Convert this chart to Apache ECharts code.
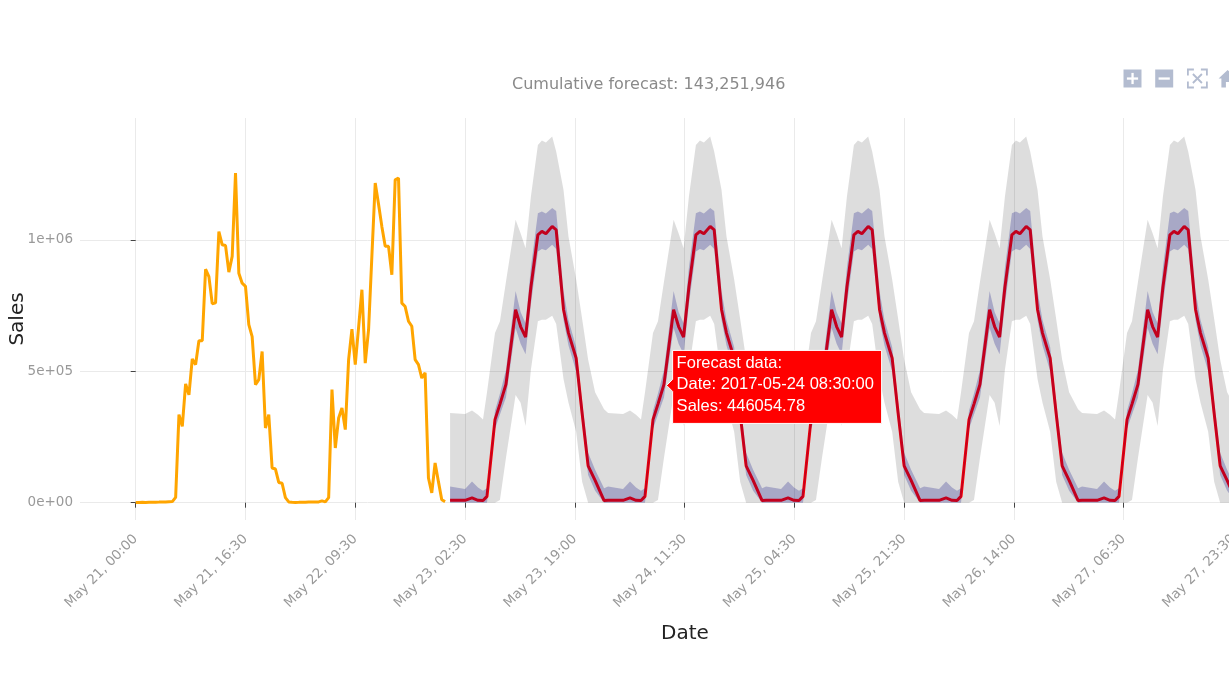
<!DOCTYPE html>
<html>
<head>
<meta charset="utf-8">
<title>Cumulative forecast</title>
<script src="https://cdn.jsdelivr.net/npm/echarts@6/dist/echarts.min.js"></script>
<style>
    html, body { margin: 0; padding: 0; background: #ffffff; }
    #grafico { width: 1229px; height: 691px; }
</style>
</head>
<body>
<div id="grafico"></div>
<script>
// x positions are half-hour slots counted from May 21 00:00
var xTickValues = [0, 33, 66, 99, 132, 165, 198, 231, 264, 297, 330];
var xTickLabels = ["May 21, 00:00", "May 21, 16:30", "May 22, 09:30", "May 23, 02:30",
    "May 23, 19:00", "May 24, 11:30", "May 25, 04:30", "May 25, 21:30",
    "May 26, 14:00", "May 27, 06:30", "May 27, 23:30"];
var yTickValues = [0, 500000, 1000000];
var yTickLabels = ["0e+00", "5e+05", "1e+06"];

// actual sales, one value per slot starting at slot 0
var actualSales = [
    1000, 800, 1200, 1000, 1500, 1800, 2000, 2200, 2500, 3000,
    3500, 4000, 20000, 335000, 290000, 452000, 410000, 547000, 525000, 616000,
    616000, 888000, 860000, 757000, 760000, 1031000, 981000, 978000, 877000, 937000,
    1254000, 873000, 835000, 823000, 677000, 632000, 449000, 468000, 575000, 284000,
    335000, 132000, 128000, 77000, 74000, 19000, 3000, 1500, 1000, 1200,
    1800, 2000, 2500, 2200, 3000, 2800, 7000, 3000, 19000, 430000,
    208000, 322000, 360000, 278000, 544000, 660000, 525000, 667000, 810000, 531000,
    658000, 940000, 1216000, 1135000, 1050000, 975000, 975000, 867000, 1228000, 1235000,
    759000, 746000, 690000, 671000, 544000, 525000, 474000, 494000, 94000, 37000,
    151000, 80000, 11000, 4000
];

// forecast points (slot positions), values below are in thousands
var forecastSlots = [
    94.5, 99.0, 101.1, 102.9, 104.4, 105.6, 108.0, 109.5, 111.3, 114.2, 115.7, 117.2, 118.8, 120.9, 122.1, 123.3, 125.2, 126.4, 128.6, 130.1, 132.4, 134.2, 136.0, 138.1, 140.8,
    142.0, 146.5, 148.6, 150.4, 151.9, 153.1, 155.5, 157.0, 158.8, 161.7, 163.2, 164.7, 166.3, 168.4, 169.6, 170.8, 172.7, 173.9, 176.1, 177.6, 179.9, 181.7, 183.5, 185.6, 188.3,
    189.5, 194.0, 196.1, 197.9, 199.4, 200.6, 203.0, 204.5, 206.3, 209.2, 210.7, 212.2, 213.8, 215.9, 217.1, 218.3, 220.2, 221.4, 223.6, 225.1, 227.4, 229.2, 231.0, 233.1, 235.8,
    237.0, 241.5, 243.6, 245.4, 246.9, 248.1, 250.5, 252.0, 253.8, 256.7, 258.2, 259.7, 261.3, 263.4, 264.6, 265.8, 267.7, 268.9, 271.1, 272.6, 274.9, 276.7, 278.5, 280.6, 283.3,
    284.5, 289.0, 291.1, 292.9, 294.4, 295.6, 298.0, 299.5, 301.3, 304.2, 305.7, 307.2, 308.8, 310.9, 312.1, 313.3, 315.2, 316.4, 318.6, 320.1, 322.4, 324.2, 326.0, 328.1, 330.8,
    332.0
];
var forecastLine = [
    9, 9, 18, 9, 8, 24, 316, 375, 450, 734, 670, 630, 820, 1019, 1032, 1023, 1051, 1038, 735, 645, 550, 340, 140, 85, 8,
    9, 9, 18, 9, 8, 24, 316, 375, 450, 734, 670, 630, 820, 1019, 1032, 1023, 1051, 1038, 735, 645, 550, 340, 140, 85, 8,
    9, 9, 18, 9, 8, 24, 316, 375, 450, 734, 670, 630, 820, 1019, 1032, 1023, 1051, 1038, 735, 645, 550, 340, 140, 85, 8,
    9, 9, 18, 9, 8, 24, 316, 375, 450, 734, 670, 630, 820, 1019, 1032, 1023, 1051, 1038, 735, 645, 550, 340, 140, 85, 8,
    9, 9, 18, 9, 8, 24, 316, 375, 450, 734, 670, 630, 820, 1019, 1032, 1023, 1051, 1038, 735, 645, 550, 340, 140, 85, 8,
    9
];
var innerUpper = [
    62, 52, 81, 58, 45, 55, 350, 415, 505, 805, 725, 683, 895, 1101, 1108, 1100, 1121, 1110, 805, 695, 592, 385, 190, 125, 55,
    62, 52, 81, 58, 45, 55, 350, 415, 505, 805, 725, 683, 895, 1101, 1108, 1100, 1121, 1110, 805, 695, 592, 385, 190, 125, 55,
    62, 52, 81, 58, 45, 55, 350, 415, 505, 805, 725, 683, 895, 1101, 1108, 1100, 1121, 1110, 805, 695, 592, 385, 190, 125, 55,
    62, 52, 81, 58, 45, 55, 350, 415, 505, 805, 725, 683, 895, 1101, 1108, 1100, 1121, 1110, 805, 695, 592, 385, 190, 125, 55,
    62, 52, 81, 58, 45, 55, 350, 415, 505, 805, 725, 683, 895, 1101, 1108, 1100, 1121, 1110, 805, 695, 592, 385, 190, 125, 55,
    62
];
var innerLower = [
    0, 0, 0, 0, 0, 0, 280, 335, 400, 664, 605, 565, 755, 955, 965, 960, 981, 965, 695, 598, 500, 300, 105, 45, 0,
    0, 0, 0, 0, 0, 0, 280, 335, 400, 664, 605, 565, 755, 955, 965, 960, 981, 965, 695, 598, 500, 300, 105, 45, 0,
    0, 0, 0, 0, 0, 0, 280, 335, 400, 664, 605, 565, 755, 955, 965, 960, 981, 965, 695, 598, 500, 300, 105, 45, 0,
    0, 0, 0, 0, 0, 0, 280, 335, 400, 664, 605, 565, 755, 955, 965, 960, 981, 965, 695, 598, 500, 300, 105, 45, 0,
    0, 0, 0, 0, 0, 0, 280, 335, 400, 664, 605, 565, 755, 955, 965, 960, 981, 965, 695, 598, 500, 300, 105, 45, 0,
    0
];
var outerUpper = [
    341, 337, 351, 334, 316, 420, 645, 690, 840, 1076, 1025, 968, 1165, 1361, 1378, 1370, 1393, 1336, 1190, 1013, 850, 700, 545, 420, 355,
    341, 337, 351, 334, 316, 420, 645, 690, 840, 1076, 1025, 968, 1165, 1361, 1378, 1370, 1393, 1336, 1190, 1013, 850, 700, 545, 420, 355,
    341, 337, 351, 334, 316, 420, 645, 690, 840, 1076, 1025, 968, 1165, 1361, 1378, 1370, 1393, 1336, 1190, 1013, 850, 700, 545, 420, 355,
    341, 337, 351, 334, 316, 420, 645, 690, 840, 1076, 1025, 968, 1165, 1361, 1378, 1370, 1393, 1336, 1190, 1013, 850, 700, 545, 420, 355,
    341, 337, 351, 334, 316, 420, 645, 690, 840, 1076, 1025, 968, 1165, 1361, 1378, 1370, 1393, 1336, 1190, 1013, 850, 700, 545, 420, 355,
    341
];
var outerLower = [
    0, 0, 0, 0, 0, 0, 0, 10, 170, 410, 380, 292, 506, 690, 696, 696, 711, 680, 470, 380, 270, 80, 0, 0, 0,
    0, 0, 0, 0, 0, 0, 0, 10, 170, 410, 380, 292, 506, 690, 696, 696, 711, 680, 470, 380, 270, 80, 0, 0, 0,
    0, 0, 0, 0, 0, 0, 0, 10, 170, 410, 380, 292, 506, 690, 696, 696, 711, 680, 470, 380, 270, 80, 0, 0, 0,
    0, 0, 0, 0, 0, 0, 0, 10, 170, 410, 380, 292, 506, 690, 696, 696, 711, 680, 470, 380, 270, 80, 0, 0, 0,
    0, 0, 0, 0, 0, 0, 0, 10, 170, 410, 380, 292, 506, 690, 696, 696, 711, 680, 470, 380, 270, 80, 0, 0, 0,
    0
];
var salesUnit = 1000;

var hoverPoint = { slot: 159.6, sales: 446054.78, date: "2017-05-24 08:30:00" };
var chartTitle = "Cumulative forecast: 143,251,946";

function toPairs(slots, values, unit){
    return slots.map(function(s, i){ return [s, values[i] * unit]; });
}

function banda(nombre, upper, lower, color, z){
    return {
        name: nombre,
        type: "custom",
        z: z,
        silent: true,
        data: forecastSlots.map(function(s, i){ return [s, lower[i] * salesUnit, upper[i] * salesUnit]; }),
        encode: { x: 0, y: [1, 2] },
        renderItem: function(params, api){
            if (params.dataIndex !== 0) { return null; }
            var top = [], bottom = [];
            for (var i = 0; i < forecastSlots.length; i++) {
                top.push(api.coord([forecastSlots[i], upper[i] * salesUnit]));
                bottom.unshift(api.coord([forecastSlots[i], lower[i] * salesUnit]));
            }
            return {
                type: "polygon",
                shape: { points: top.concat(bottom) },
                style: { fill: color }
            };
        }
    };
}

// modebar in the top right corner: zoom in, zoom out, autoscale, reset axes
function barraIconos(x0, y0){
    var c = "#b3bcd0", w = "#ffffff", s = 31.7, el = [];
    // zoom in
    el.push({ type: "rect", x: x0, y: y0, z: 50, shape: { width: 18, height: 18 }, style: { fill: c } });
    el.push({ type: "rect", x: x0 + 3.4, y: y0 + 7.9, z: 51, shape: { width: 11.2, height: 2.3 }, style: { fill: w } });
    el.push({ type: "rect", x: x0 + 7.9, y: y0 + 3.4, z: 51, shape: { width: 2.3, height: 11.2 }, style: { fill: w } });
    // zoom out
    el.push({ type: "rect", x: x0 + s, y: y0, z: 50, shape: { width: 18, height: 18 }, style: { fill: c } });
    el.push({ type: "rect", x: x0 + s + 3.4, y: y0 + 7.9, z: 51, shape: { width: 11.2, height: 2.3 }, style: { fill: w } });
    // autoscale
    var ax = x0 + 2 * s + 1, st = { stroke: c, lineWidth: 1.8, fill: "none" };
    [[[0, 6], [0, 0], [6, 0]], [[13, 0], [19, 0], [19, 6]], [[0, 12], [0, 18], [6, 18]], [[13, 18], [19, 18], [19, 12]]].forEach(function(p){
        el.push({ type: "polyline", x: ax, y: y0, z: 50, shape: { points: p }, style: st });
    });
    el.push({ type: "line", x: ax, y: y0, z: 50, shape: { x1: 5, y1: 4.5, x2: 14, y2: 13.5 }, style: st });
    el.push({ type: "line", x: ax, y: y0, z: 50, shape: { x1: 14, y1: 4.5, x2: 5, y2: 13.5 }, style: st });
    // reset axes
    el.push({ type: "polygon", x: x0 + 3 * s, y: y0, z: 50,
        shape: { points: [[9, 0.5], [0, 9], [2.8, 9], [2.8, 18], [7.3, 18], [7.3, 12.4], [10.7, 12.4], [10.7, 18], [15.2, 18], [15.2, 9], [18, 9]] },
        style: { fill: c } });
    return el;
}

var fuente = "DejaVu Sans";
var dom = document.getElementById("grafico");
var myChart = echarts.init(dom);
var option = {
    animation: false,
    backgroundColor: "#ffffff",
    title: {
        text: chartTitle,
        left: 512,
        top: 77,
        padding: 0,
        textStyle: { fontFamily: fuente, fontSize: 16, fontWeight: "normal", color: "#8a8a8a" }
    },
    grid: {
        left: 80,
        top: 118,
        width: 1210,
        height: 402,
        containLabel: false,
        outerBoundsMode: "none"
    },
    xAxis: {
        type: "value",
        min: -16.75,
        max: 347,
        offset: 2,
        name: "Date",
        nameLocation: "middle",
        nameGap: 102,
        nameTextStyle: { fontFamily: fuente, fontSize: 20, color: "#222222" },
        axisLine: { show: false },
        axisTick: { show: true, customValues: xTickValues, length: 5, lineStyle: { color: "#444444" } },
        axisLabel: {
            customValues: xTickValues,
            rotate: 45,
            margin: 15,
            color: "#999999",
            fontFamily: fuente,
            fontSize: 13.5,
            formatter: function(v){ return xTickLabels[xTickValues.indexOf(v)]; }
        },
        splitLine: { show: true, lineStyle: { color: "#eaeaea", width: 1 } }
    },
    yAxis: {
        type: "value",
        min: -65900,
        max: 1463300,
        name: "Sales",
        nameLocation: "middle",
        nameGap: 52,
        nameMoveOverlap: false,
        nameTextStyle: { fontFamily: fuente, fontSize: 20, color: "#222222" },
        axisLine: { show: false },
        axisTick: { show: true, customValues: yTickValues, length: 5, lineStyle: { color: "#444444" } },
        axisLabel: {
            customValues: yTickValues,
            margin: 7,
            color: "#999999",
            fontFamily: fuente,
            fontSize: 13.5,
            formatter: function(v){ return yTickLabels[yTickValues.indexOf(v)]; }
        },
        splitLine: { show: true, lineStyle: { color: "#eaeaea", width: 1 } }
    },
    series: [
        {
            name: "Actual",
            type: "line",
            z: 3,
            silent: true,
            symbol: "none",
            data: actualSales.map(function(v, i){ return [i, v]; }),
            lineStyle: { color: "#ffa500", width: 3 }
        },
        banda("Outer interval", outerUpper, outerLower, "rgba(0, 0, 0, 0.135)", 2),
        {
            name: "Forecast",
            type: "line",
            z: 3,
            silent: true,
            symbol: "none",
            data: toPairs(forecastSlots, forecastLine, salesUnit),
            lineStyle: { color: "#ff0000", width: 3 }
        },
        banda("Inner interval", innerUpper, innerLower, "rgba(0, 0, 126, 0.24)", 4)
    ]
};

if (option && typeof option === "object") {
    myChart.setOption(option, true);

    var graficos = barraIconos(1123.5, 69.5);

    // hover label of the forecast point, placed through the axes
    var tip = myChart.convertToPixel({ gridIndex: 0 }, [hoverPoint.slot, hoverPoint.sales]);
    graficos.push({
        type: "polygon",
        x: tip[0],
        y: tip[1],
        z: 100,
        shape: { points: [[0, 0], [6, -6], [6, -35], [215, -35], [215, 38], [6, 38], [6, 6]] },
        style: { fill: "#ff0000", stroke: "#ffffff", lineWidth: 1 }
    });
    graficos.push({
        type: "text",
        x: tip[0] + 10,
        y: tip[1] - 33,
        z: 101,
        style: {
            text: "Forecast data:\nDate: " + hoverPoint.date + "\nSales: " + hoverPoint.sales.toFixed(2),
            fill: "#ffffff",
            font: "16.5px 'Liberation Sans', Arial, sans-serif",
            lineHeight: 21.5,
            verticalAlign: "top"
        }
    });
    myChart.setOption({ graphic: graficos });

    window.addEventListener("resize", function(){
        if(myChart != null && myChart != undefined){
            myChart.resize();
        }
    });
}
</script>
</body>
</html>
